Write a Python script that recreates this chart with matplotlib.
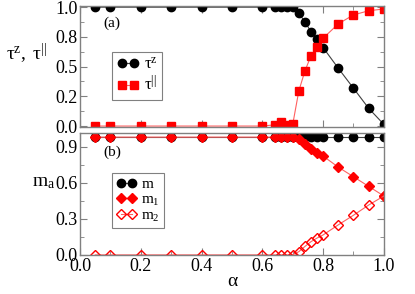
import numpy as np
import matplotlib
matplotlib.use("Agg")
import matplotlib.pyplot as plt
from matplotlib.ticker import MultipleLocator, FormatStrFormatter

plt.rcParams['font.family'] = ['Liberation Serif', 'DejaVu Serif']
plt.rcParams['mathtext.fontset'] = 'custom'
plt.rcParams['mathtext.rm'] = 'Liberation Serif'
plt.rcParams['mathtext.it'] = 'Liberation Serif:italic'

alpha = [0.05, 0.1, 0.2, 0.3, 0.4, 0.5, 0.6, 0.64, 0.66, 0.68, 0.7,
         0.72, 0.74, 0.76, 0.78, 0.8, 0.85, 0.9, 0.95, 1.0]

tau_z = [1.0, 1.0, 1.0, 1.0, 1.0, 1.0, 1.0, 1.0, 1.0, 1.0, 1.0,
         0.95, 0.876, 0.795, 0.73, 0.66, 0.486, 0.318, 0.149, 0.014]
tau_par = [0.0, 0.0, 0.0, 0.0, 0.0, 0.0, 0.0, 0.01, 0.03, 0.01, 0.015,
           0.295, 0.463, 0.59, 0.668, 0.739, 0.86, 0.935, 0.97, 0.985]

m_tot = [0.98] * 20
m_1 = [0.98, 0.98, 0.98, 0.98, 0.98, 0.98, 0.98, 0.98, 0.98, 0.98, 0.98,
       0.96, 0.92, 0.878, 0.85, 0.822, 0.73, 0.65, 0.57, 0.49]
m_2 = [0.0, 0.0, 0.0, 0.0, 0.0, 0.0, 0.0, 0.0, 0.0, 0.0, 0.0,
       0.027, 0.07, 0.11, 0.14, 0.166, 0.25, 0.33, 0.415, 0.49]

red = '#ff0000'
red_line = '#ff6060'
blk_line = '#404040'
frame = '#808080'

fig = plt.figure(figsize=(4.15, 2.94), dpi=100)
ax1 = fig.add_axes([0.193, 0.568, 0.732, 0.412])
ax2 = fig.add_axes([0.193, 0.133, 0.732, 0.415])


def style(ax):
    for s in ax.spines.values():
        s.set_color(frame)
        s.set_linewidth(1.0)
    ax.tick_params(which='both', direction='in', top=True, right=True,
                   color=frame, labelsize=13, pad=2)
    ax.tick_params(which='major', length=5)
    ax.tick_params(which='minor', length=3)
    ax.xaxis.set_major_locator(MultipleLocator(0.2))
    ax.xaxis.set_minor_locator(MultipleLocator(0.1))
    ax.set_xlim(0, 1)


style(ax1)
style(ax2)

# (a)
ax1.plot(alpha, tau_z, '-', color=blk_line, lw=0.8, marker='o', ms=6,
         mfc='k', mec='k', label=r'$\mathrm{τ^{z}}$')
ax1.plot(alpha, tau_par, '-', color=red_line, lw=0.8, marker='s', ms=5.5,
         mfc=red, mec=red, label=r'$\mathrm{τ^{||}}$')
ax1.set_ylim(-0.008, 1.011)
ax1.yaxis.set_major_locator(MultipleLocator(0.25))
ax1.yaxis.set_minor_locator(MultipleLocator(0.125))
ax1.yaxis.set_major_formatter(FormatStrFormatter('%.1f'))
ax1.tick_params(labelbottom=False)
ax1.set_ylabel(r'$\mathrm{τ^{z},\ τ^{||}}$', rotation=0, fontsize=14)
ax1.yaxis.set_label_coords(-0.175, 0.50)
ax1.text(0.075, 0.86, '(a)', transform=ax1.transAxes, fontsize=11,
         ha='left', va='center')
leg1 = ax1.legend(loc='upper left', bbox_to_anchor=(0.105, 0.62), numpoints=2,
                  fontsize=12, handlelength=1.3, handletextpad=0.3,
                  borderpad=0.3, labelspacing=0.15, borderaxespad=0,
                  fancybox=False, framealpha=1)
leg1.get_frame().set_edgecolor(frame)
leg1.get_frame().set_linewidth(0.8)

# (b)
ax2.plot(alpha, m_tot, '-', color=blk_line, lw=0.8, marker='o', ms=6,
         mfc='k', mec='k', label=r'$\mathrm{m}$')
ax2.plot(alpha, m_1, '-', color=red_line, lw=0.8, marker='D', ms=5,
         mfc=red, mec=red, label=r'$\mathrm{m_1}$')
ax2.plot(alpha, m_2, '-', color=red_line, lw=0.8, marker='D', ms=5,
         mfc='none', mec=red, mew=1.0, label=r'$\mathrm{m_2}$')
ax2.set_ylim(0.0, 1.015)
ax2.yaxis.set_major_locator(MultipleLocator(0.3))
ax2.yaxis.set_minor_locator(MultipleLocator(0.15))
ax2.yaxis.set_major_formatter(FormatStrFormatter('%.1f'))
ax2.xaxis.set_major_formatter(FormatStrFormatter('%.1f'))
ax2.set_ylabel(r'$\mathrm{m_a}$', rotation=0, fontsize=14)
ax2.yaxis.set_label_coords(-0.12, 0.52)
ax2.set_xlabel('α', fontsize=14, labelpad=-1)
ax2.text(0.075, 0.84, '(b)', transform=ax2.transAxes, fontsize=11,
         ha='left', va='center')
leg2 = ax2.legend(loc='upper left', bbox_to_anchor=(0.105, 0.672), numpoints=2,
                  fontsize=11, handlelength=1.3, handletextpad=0.3,
                  borderpad=0.3, labelspacing=0.1, borderaxespad=0,
                  fancybox=False, framealpha=1)
leg2.get_frame().set_edgecolor(frame)
leg2.get_frame().set_linewidth(0.8)

fig.savefig('out.png', dpi=100)
